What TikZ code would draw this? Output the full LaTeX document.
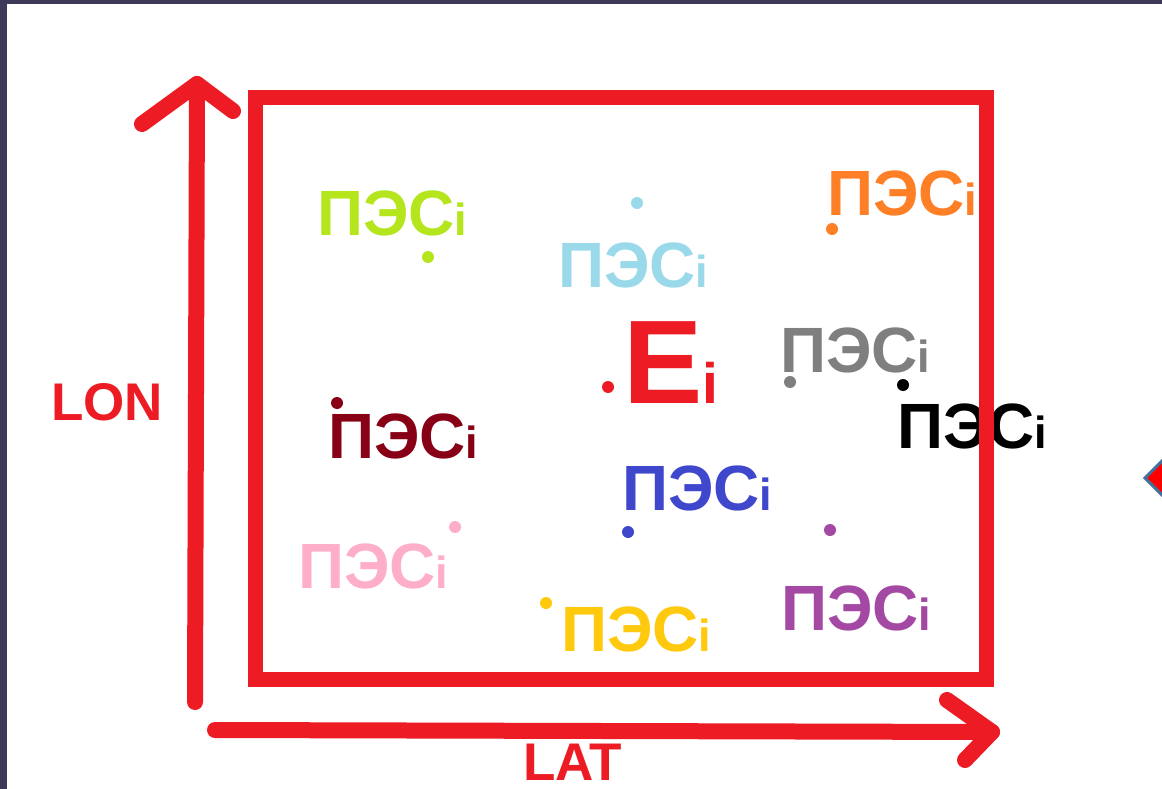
\documentclass[tikz,border=0pt]{standalone}
\usepackage{fontspec}
\setmainfont{Liberation Sans}
\definecolor{pred}{HTML}{ED1C24}
\definecolor{plime}{HTML}{B5E61D}
\definecolor{plblue}{HTML}{99D9EA}
\definecolor{porange}{HTML}{FF7F27}
\definecolor{pgray}{HTML}{7F7F7F}
\definecolor{pmaroon}{HTML}{880015}
\definecolor{pblue}{HTML}{3F48CC}
\definecolor{ppink}{HTML}{FFAEC9}
\definecolor{pyellow}{HTML}{FFC90E}
\definecolor{ppurple}{HTML}{A349A4}
\definecolor{pframe}{HTML}{3C3A58}
\definecolor{pdiaedge}{HTML}{41719C}
\newcommand{\pestext}{{\fontsize{64}{64}\selectfont\bfseries ПЭС}{\fontsize{45}{45}\selectfont\bfseries i}}
\begin{document}
\begin{tikzpicture}[x=1pt,y=-1pt,
  lbl/.style={anchor=base west,inner sep=0pt,outer sep=0pt},
  pdot/.style={circle,inner sep=0pt,minimum size=12pt},
  axis/.style={draw=pred,line width=16pt,line cap=round,line join=round},
  axlbl/.style={anchor=base west,inner sep=0pt,text=pred,font=\fontsize{53}{53}\selectfont\bfseries}]
\useasboundingbox (0,0) rectangle (1162,789);
\clip (0,0) rectangle (1162,789);
\fill[white] (0,0) rectangle (1162,789);
% dark frame
\fill[pframe] (0,0) rectangle (1162,4);
\fill[pframe] (0,0) rectangle (7,789);
% diamond at right edge
\draw[fill=red,draw=pdiaedge,line width=3pt] (1145,478) -- (1191,432) -- (1237,478) -- (1191,524) -- cycle;
% labels
\node[lbl,text=plime]   (l1)  at (317,235) {\pestext};
\node[lbl,text=plblue]  (l2)  at (558,287) {\pestext};
\node[lbl,text=porange] (l3)  at (827,215) {\pestext};
\node[lbl,text=pgray]   (l4)  at (780,372) {\pestext};
\node[lbl,text=black]   (l5)  at (897,448) {\pestext};
\node[lbl,text=pmaroon] (l6)  at (328,458) {\pestext};
\node[lbl,text=pblue]   (l7)  at (622,510) {\pestext};
\node[lbl,text=ppink]   (l8)  at (298,588) {\pestext};
\node[lbl,text=pyellow] (l9)  at (561,651) {\pestext};
\node[lbl,text=ppurple] (l10) at (781,630) {\pestext};
% E_i
\node[lbl,text=pred] (E) at (623,403) {{\fontsize{119}{119}\selectfont\bfseries E}{\fontsize{57}{57}\selectfont\bfseries i}};
% dots
\node[pdot,fill=plime]   (d1)  at (428,257) {};
\node[pdot,fill=plblue]  (d2)  at (637,203) {};
\node[pdot,fill=porange] (d3)  at (832,229) {};
\node[pdot,fill=pgray]   (d4)  at (790,382) {};
\node[pdot,fill=black]   (d5)  at (903,385) {};
\node[pdot,fill=pmaroon] (d6)  at (337,403) {};
\node[pdot,fill=pblue]   (d7)  at (628,532) {};
\node[pdot,fill=ppink]   (d8)  at (455,527) {};
\node[pdot,fill=pyellow] (d9)  at (546,603) {};
\node[pdot,fill=ppurple] (d10) at (830,530) {};
\node[pdot,fill=pred]    (dE)  at (608,387) {};
% rectangle
\draw[pred,line width=15pt,line join=miter] (255,98) rectangle (986,679);
% axes
\coordinate (vb) at (195,702);
\coordinate (vt) at (197,84);
\coordinate (vl) at (142,124);
\coordinate (vr) at (233,111);
\path[axis] (vb) -- (vt);
\path[axis] (vl) -- (vt) -- (vr);
\coordinate (hl) at (215,730);
\coordinate (hr) at (992,732);
\coordinate (hu) at (947,700);
\coordinate (hd) at (965,760);
\path[axis] (hl) -- (hr);
\path[axis] (hu) -- (hr) -- (hd);
% axis labels
\node[axlbl] (lon) at (51,420) {LON};
\node[axlbl] (lat) at (523,780) {LAT};
\end{tikzpicture}
\end{document}
